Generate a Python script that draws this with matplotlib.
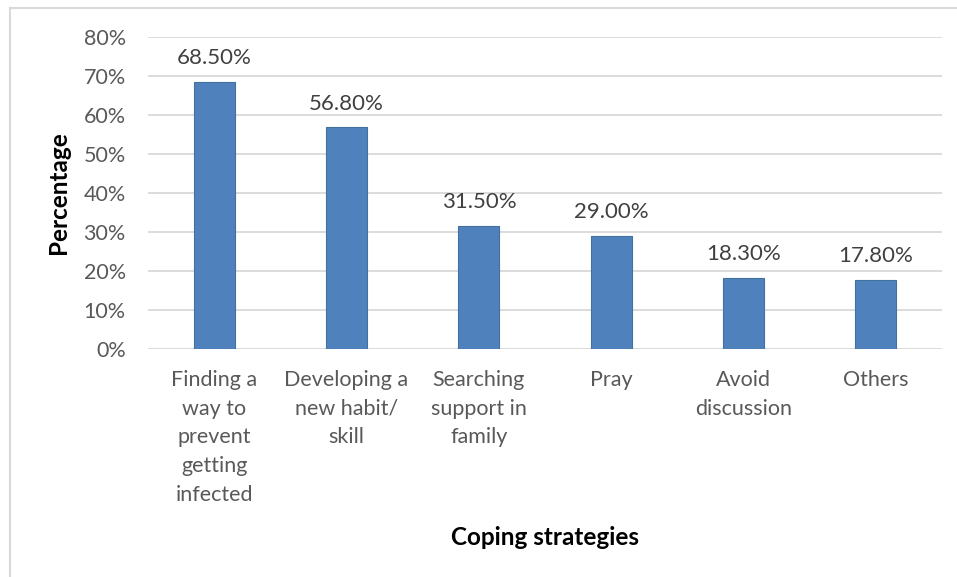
import matplotlib.pyplot as plt
from matplotlib.lines import Line2D
from matplotlib.ticker import FuncFormatter

categorias = ["Finding a\nway to\nprevent\ngetting\ninfected",
              "Developing a\nnew habit/\nskill",
              "Searching\nsupport in\nfamily",
              "Pray",
              "Avoid\ndiscussion",
              "Others"]
valores = [68.5, 56.8, 31.5, 29.0, 18.3, 17.8]
yticks = [0, 10, 20, 30, 40, 50, 60, 70, 80]

cinza = '#595959'
azul = '#4f81bd'

plt.rcParams['font.family'] = ['Lato', 'DejaVu Sans']

fig = plt.figure(figsize=(9.57, 5.77), dpi=100, facecolor='white')
ax = fig.add_axes([0.1547, 0.3952, 0.8296, 0.5407])

x = range(len(valores))
barras = ax.bar(x, valores, width=0.31, color=azul, edgecolor='#41719c', linewidth=0.8, zorder=3)

for b, v in zip(barras, valores):
    ax.annotate('{:.2f}%'.format(v), (b.get_x() + b.get_width() / 2, v),
                xytext=(0, 10), textcoords='offset points',
                ha='center', va='bottom', fontsize=16, color='#404040')

ax.set_xlim(-0.5, len(valores) - 0.5)
ax.set_ylim(0, 80)
ax.set_yticks(yticks)
ax.yaxis.set_major_formatter(FuncFormatter(lambda v, p: '{:.0f}%'.format(v)))
ax.set_xticks(list(x))
ax.set_xticklabels(categorias, linespacing=1.55)

ax.grid(axis='y', color='#d9d9d9', linewidth=1.3, zorder=0)
for s in ax.spines.values():
    s.set_visible(False)
ax.tick_params(axis='both', length=0, labelsize=15.5, colors=cinza)
ax.tick_params(axis='y', pad=16)
ax.tick_params(axis='x', pad=15)

ax.set_ylabel('Percentage', fontsize=17.5, fontweight='bold', color='black', labelpad=10)
fig.text(0.5695, 0.069, 'Coping strategies', ha='center', va='center',
         fontsize=17.5, fontweight='bold', color='black')

# moldura do gráfico (só topo e esquerda aparecem)
fig.add_artist(Line2D([10 / 957, 1], [1 - 8 / 577, 1 - 8 / 577], color='#d9d9d9', linewidth=1.5))
fig.add_artist(Line2D([10 / 957, 10 / 957], [0, 1 - 8 / 577], color='#d9d9d9', linewidth=1.5))

fig.savefig('out.png', dpi=100, facecolor='white')
